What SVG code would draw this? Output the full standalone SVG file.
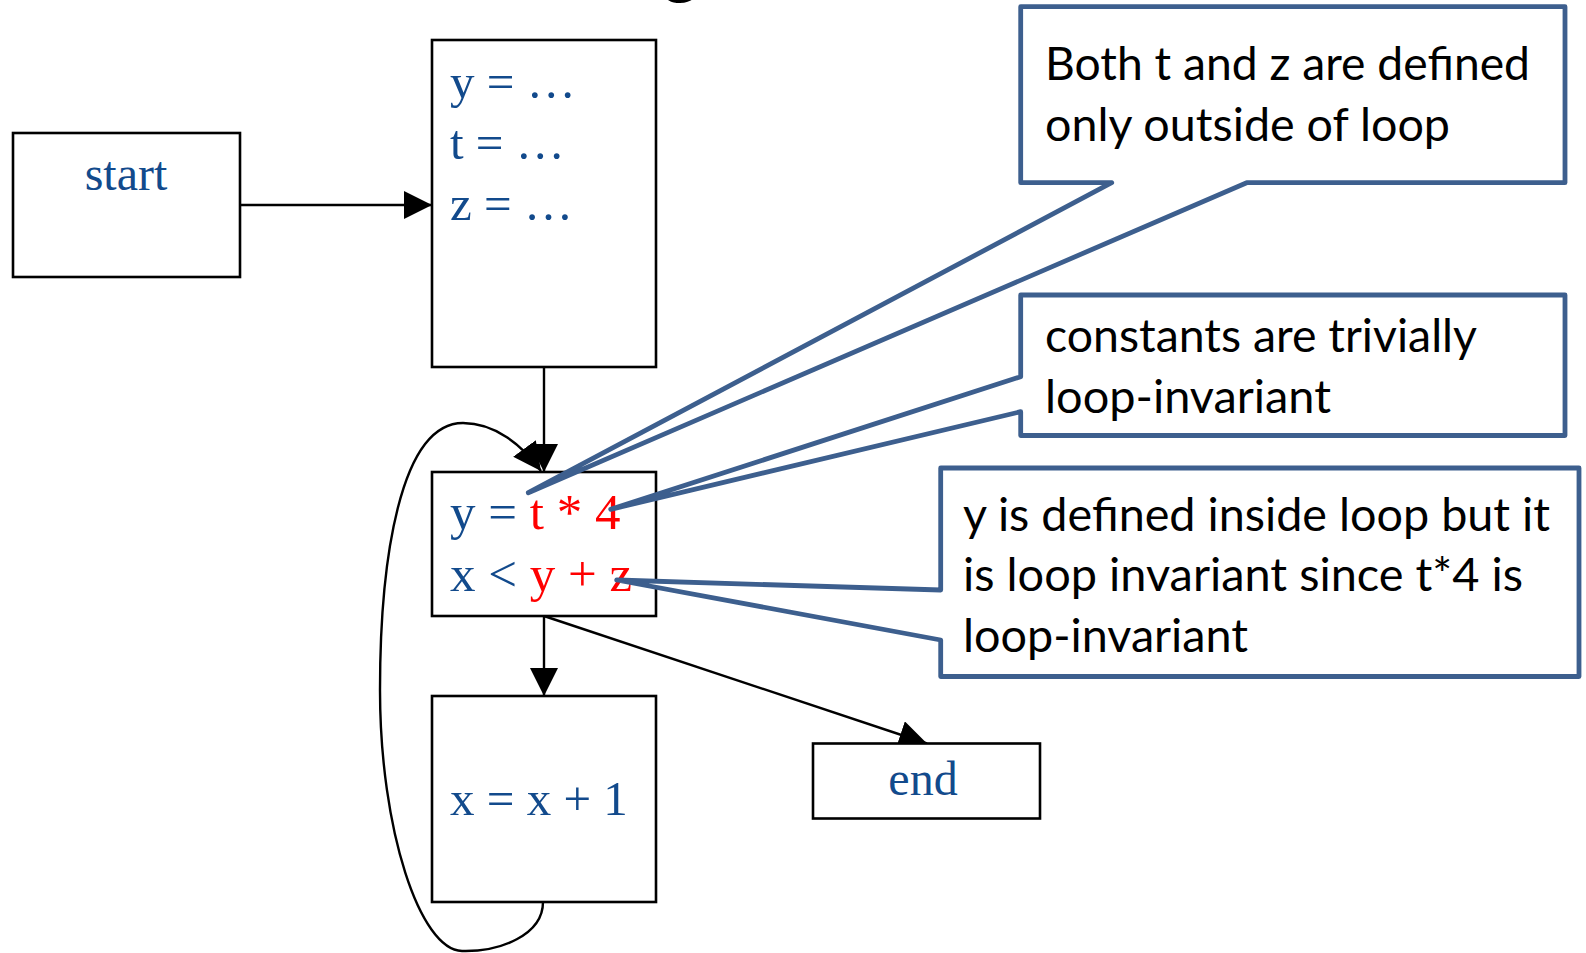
<svg xmlns="http://www.w3.org/2000/svg" width="1586" height="953" viewBox="0 0 1586 953">
<style>
.box{fill:#fff;stroke:#000;stroke-width:2.6}
.code{font-family:"Liberation Serif","Times New Roman",serif;font-size:49px;fill:#124a8c}
.big{font-size:51px}
.mid{font-size:48px}
.red{fill:#ff0000}
.edge{fill:none;stroke:#000;stroke-width:2.4}
.callout{fill:#fff;stroke:#3d5f8e;stroke-width:4.8;stroke-linejoin:round}
.note{font-family:Lato,"Open Sans",sans-serif;font-size:46px;fill:#000}
</style>
<defs>
<marker id="arr" markerUnits="userSpaceOnUse" markerWidth="30" markerHeight="30" refX="28" refY="14" orient="auto">
<path d="M0,0 L28,14 L0,28 Z" fill="#000"/>
</marker>
</defs>
<rect width="1586" height="953" fill="#fff"/>
<text x="659" y="-12" font-family="Liberation Sans,Arial,sans-serif" font-weight="bold" font-size="72" fill="#000">g</text>

<g id="connectors">
<line class="edge" x1="240" y1="205" x2="432" y2="205" marker-end="url(#arr)"/>
<line class="edge" x1="544" y1="367" x2="544" y2="472" marker-end="url(#arr)"/>
<line class="edge" x1="544" y1="616" x2="544" y2="696" marker-end="url(#arr)"/>
<line class="edge" x1="544" y1="616" x2="927" y2="743.5" marker-end="url(#arr)"/>
<path class="edge" d="M543,902 C543,935 500,952 462,951 C420,950 380,830 380,690 C380,560 400,423 463,423 C495,423 522,445 541,471" marker-end="url(#arr)"/>
</g>

<g id="start">
<rect class="box" x="13" y="133" width="227" height="144"/>
<text class="code mid" x="126" y="190" text-anchor="middle">start</text>
</g>

<g id="init">
<rect class="box" x="432" y="40" width="224" height="327"/>
<text class="code" x="450" y="98">y = …</text>
<text class="code" x="450" y="159">t = …</text>
<text class="code" x="450" y="220">z = …</text>
</g>

<g id="test">
<rect class="box" x="432" y="472" width="224" height="144"/>
<text class="code big" x="450" y="529">y = <tspan class="red">t * 4</tspan></text>
<text class="code big" x="450" y="591">x &lt; <tspan class="red">y + z</tspan></text>
</g>

<g id="body">
<rect class="box" x="432" y="696" width="224" height="206"/>
<text class="code" x="450" y="815">x = x + 1</text>
</g>

<g id="end">
<rect class="box" x="813" y="743.5" width="227" height="75"/>
<text class="code mid" x="923" y="795" text-anchor="middle">end</text>
</g>

<g id="callout-outside">
<path class="callout" d="M1020.7,6.7 H1565 V182.7 H1246.7 L528.3,492.7 L1111.7,182.7 H1020.7 Z"/>
<text class="note" x="1045" y="80" textLength="485" lengthAdjust="spacingAndGlyphs">Both t and z are defined</text>
<text class="note" x="1045" y="141" textLength="405" lengthAdjust="spacingAndGlyphs">only outside of loop</text>
</g>

<g id="callout-constants">
<path class="callout" d="M1020.7,295 H1565 V435.5 H1020.7 V411.7 L610.7,509.3 L1020.7,376.7 Z"/>
<text class="note" x="1045" y="352" textLength="432" lengthAdjust="spacingAndGlyphs">constants are trivially</text>
<text class="note" x="1045" y="413" textLength="286" lengthAdjust="spacingAndGlyphs">loop-invariant</text>
</g>

<g id="callout-y">
<path class="callout" d="M940.7,468 H1579 V676.5 H940.7 V640 L616.7,580 L940.7,590 Z"/>
<text class="note" x="963" y="530.5" textLength="587" lengthAdjust="spacingAndGlyphs">y is defined inside loop but it</text>
<text class="note" x="963" y="591" textLength="560" lengthAdjust="spacingAndGlyphs">is loop invariant since t*4 is</text>
<text class="note" x="963" y="652" textLength="285" lengthAdjust="spacingAndGlyphs">loop-invariant</text>
</g>
</svg>
